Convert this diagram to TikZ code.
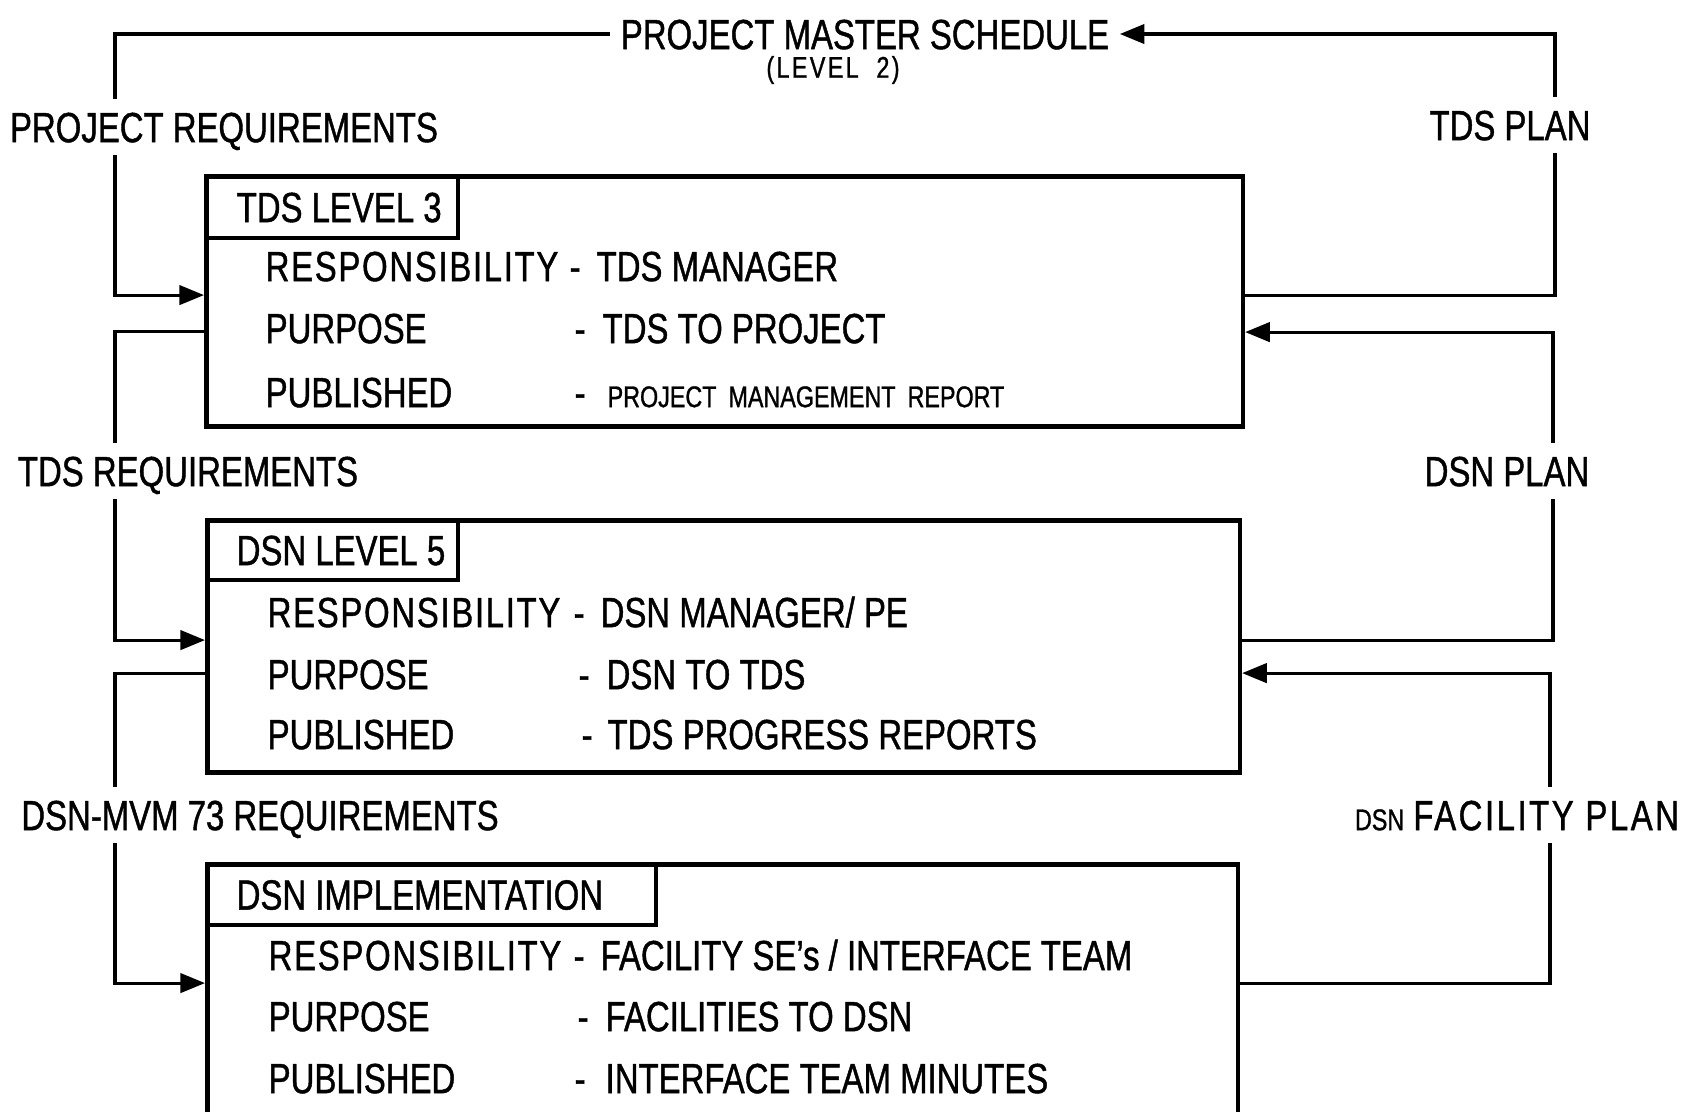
\documentclass[tikz,border=0pt]{standalone}
\usepackage{fontspec}
\setmainfont{Liberation Sans}[FakeStretch=0.78,FakeBold=1]
\usetikzlibrary{arrows.meta}
\newcommand{\wide}[1]{{\addfontfeature{LetterSpace=4}#1}}
\begin{document}
\begin{tikzpicture}[x=0.01cm,y=-0.01cm,
  boxnode/.style={draw, line width=1.3pt, inner sep=0pt, anchor=north west},
  titlenode/.style={draw, line width=1.1pt, inner sep=0pt, anchor=north west},
  txt/.style={font=\fontsize{12}{14}\selectfont, text height=8.6pt, text depth=0pt, inner sep=0pt},
  lbl/.style={txt, inner xsep=0.05cm, inner ysep=0.12cm},
  smalltxt/.style={font=\fontsize{8.5}{10}\selectfont\addfontfeature{LetterSpace=8}, text height=6.1pt, text depth=0pt, inner sep=0pt},
  conn/.style={line width=0.9pt},
  arr/.style={conn, -{Triangle[length=7pt, width=5.5pt]}}
]
\useasboundingbox (0,0) rectangle (1684,1111);
\clip (0,0) rectangle (1684,1111);
\fill[white] (0,0) rectangle (1684,1111);

\coordinate (L) at (115,0);
\coordinate (R1) at (1555,0);
\coordinate (R2) at (1553,0);
\coordinate (R3) at (1550,0);

% top
\node[txt, inner xsep=0.1cm] (pms) at (865,34) {PROJECT MASTER SCHEDULE};
\node[smalltxt] (lvl2) at (833,67) {(LEVEL\ \ 2)};

% side labels
\node[lbl] (preq) at (224,127) {PROJECT REQUIREMENTS};
\node[lbl] (treq) at (188,471) {TDS REQUIREMENTS};
\node[lbl] (dreq) at (260,815) {DSN-MVM 73 REQUIREMENTS};
\node[lbl] (tplan) at (1510,125) {TDS PLAN};
\node[lbl] (dplan) at (1507,471) {DSN PLAN};
\node[lbl] (fplan) at (1517,815) {{\fontsize{8.5}{10}\selectfont DSN}\ {\addfontfeature{LetterSpace=6}FACILITY PLAN}};

% box 1
\node[boxnode, minimum width=10.36cm, minimum height=2.50cm] (box1) at (204,174) {};
\node[titlenode, minimum width=2.52cm, minimum height=0.62cm] (t1) at (box1.north west) {};
\node[txt, anchor=west] (t1txt) at ([xshift=0.32cm]t1.west) {TDS LEVEL 3};
\node[txt, anchor=west] (r11) at (265,266) {\wide{RESPONSIBILITY}};
\node[txt, anchor=west] (v11) at (569,266) {-\hspace{0.16cm}TDS MANAGER};
\node[txt, anchor=west] (r12) at (265,328) {PURPOSE};
\node[txt, anchor=west] (v12) at (574,328) {-\hspace{0.17cm}TDS TO PROJECT};
\node[txt, anchor=west] (r13) at (265,392) {PUBLISHED};
\node[txt, anchor=west] (v13) at (574,392) {-\hspace{0.22cm}{\fontsize{8.5}{10}\selectfont PROJECT\hspace{0.12cm}MANAGEMENT\hspace{0.12cm}REPORT}};

% box 2
\node[boxnode, minimum width=10.32cm, minimum height=2.52cm] (box2) at (205,518) {};
\node[titlenode, minimum width=2.51cm, minimum height=0.60cm] (t2) at (box2.north west) {};
\node[txt, anchor=west] (t2txt) at ([xshift=0.31cm]t2.west) {DSN LEVEL 5};
\node[txt, anchor=west] (r21) at (267,612) {\wide{RESPONSIBILITY}};
\node[txt, anchor=west] (v21) at (573,612) {-\hspace{0.16cm}DSN MANAGER/ PE};
\node[txt, anchor=west] (r22) at (267,674) {PURPOSE};
\node[txt, anchor=west] (v22) at (578,674) {-\hspace{0.17cm}DSN TO TDS};
\node[txt, anchor=west] (r23) at (267,734) {PUBLISHED};
\node[txt, anchor=west] (v23) at (581,734) {-\hspace{0.15cm}TDS PROGRESS REPORTS};

% box 3
\node[boxnode, minimum width=10.30cm, minimum height=2.70cm] (box3) at (205,862) {};
\node[titlenode, minimum width=4.49cm, minimum height=0.61cm] (t3) at (box3.north west) {};
\node[txt, anchor=west] (t3txt) at ([xshift=0.31cm]t3.west) {DSN IMPLEMENTATION};
\node[txt, anchor=west] (r31) at (268,955) {\wide{RESPONSIBILITY}};
\node[txt, anchor=west] (v31) at (573,955) {-\hspace{0.16cm}FACILITY SE's / INTERFACE TEAM};
\node[txt, anchor=west] (r32) at (268,1016) {PURPOSE};
\node[txt, anchor=west] (v32) at (577,1016) {-\hspace{0.17cm}FACILITIES TO DSN};
\node[txt, anchor=west] (r33) at (268,1078) {PUBLISHED};
\node[txt, anchor=west] (v33) at (574,1078) {-\hspace{0.2cm}INTERFACE TEAM MINUTES};

% connection points on box edges
\coordinate (b1inL)  at ([yshift=-1.21cm]box1.north west);
\coordinate (b1outL) at ([yshift=-1.57cm]box1.north west);
\coordinate (b1outR) at ([yshift=-1.21cm]box1.north east);
\coordinate (b1inR)  at ([yshift=-1.58cm]box1.north east);
\coordinate (b2inL)  at ([yshift=-1.22cm]box2.north west);
\coordinate (b2outL) at ([yshift=-1.55cm]box2.north west);
\coordinate (b2outR) at ([yshift=-1.22cm]box2.north east);
\coordinate (b2inR)  at ([yshift=-1.55cm]box2.north east);
\coordinate (b3inL)  at ([yshift=-1.21cm]box3.north west);
\coordinate (b3outR) at ([yshift=-1.21cm]box3.north east);

% left connectors
\draw[conn] (pms.west) -| (L |- preq.north);
\draw[arr] (L |- preq.south) |- (b1inL);
\draw[conn] (b1outL) -| (L |- treq.north);
\draw[arr] (L |- treq.south) |- (b2inL);
\draw[conn] (b2outL) -| (L |- dreq.north);
\draw[arr] (L |- dreq.south) |- (b3inL);

% right connectors
\draw[arr] (R1 |- tplan.north) |- (pms.east);
\draw[conn] (b1outR) -| (R1 |- tplan.south);
\draw[arr] (R2 |- dplan.north) |- (b1inR);
\draw[conn] (b2outR) -| (R2 |- dplan.south);
\draw[arr] (R3 |- fplan.north) |- (b2inR);
\draw[conn] (b3outR) -| (R3 |- fplan.south);
\end{tikzpicture}
\end{document}
